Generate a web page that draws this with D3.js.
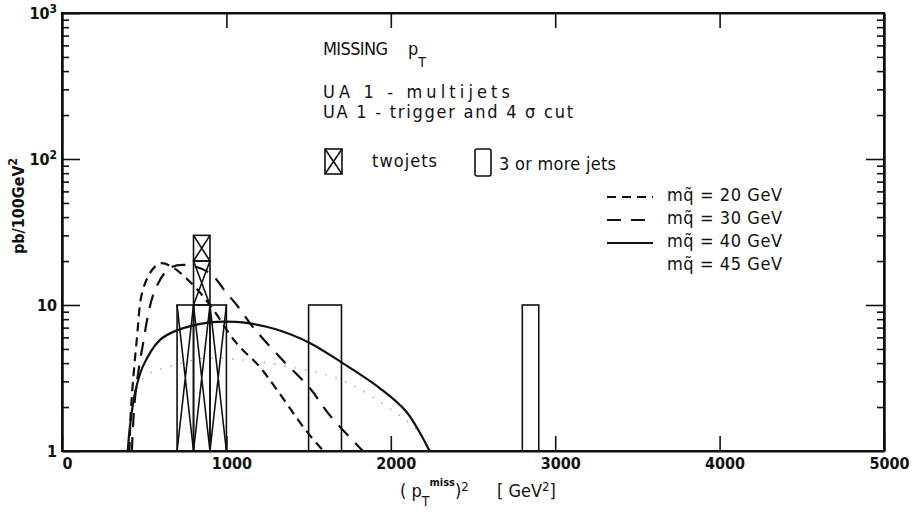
<!DOCTYPE html>
<html>
<head>
<meta charset="utf-8">
<script src="https://cdn.jsdelivr.net/npm/d3@7"></script>
<style>
  body { margin: 0; background: #fff; }
  svg text { font-family: "DejaVu Sans Condensed", "DejaVu Sans", sans-serif; fill: #111; }
  .tick text { font-weight: bold; font-size: 16px; }
</style>
</head>
<body>
<svg id="chart"></svg>
<script>
// histogram bins (GeV^2), one event = 10 pb/100GeV^2
const twoJetLo = [700, 800, 900];
const twoJetHi = [800, 900, 1000];
const twoJetEvents = [1, 3, 1];
const moreJetLo = [1500, 2800];
const moreJetHi = [1700, 2900];
const moreJetEvents = [1, 1];
const pbPerEvent = 10;

// theory curves: [ (pT miss)^2, pb/100GeV^2 ]
const mq20 = [[410,1],[418,1.8],[432,3],[455,5.8],[490,12.5],[550,17.5],[600,19.3],[670,18.2],[790,14],[900,10],[1060,5.5],[1200,3.8],[1310,2.6],[1480,1.4],[1590,1]];
const mq30 = [[425,1],[444,2.3],[486,4.9],[565,12.6],[656,17.9],[760,18.8],[900,16.5],[1000,12.1],[1063,10],[1160,7.1],[1324,4.4],[1507,2.7],[1628,1.76],[1830,1]];
const mq40 = [[400,1],[413,1.46],[444,2.5],[492,3.8],[595,5.75],[699,6.7],[899,7.6],[1000,7.7],[1100,7.6],[1306,6.8],[1507,5.5],[1707,4.0],[1932,2.7],[2096,1.85],[2236,1]];
const mq45 = [[405,1],[430,2],[500,3.2],[700,3.9],[850,4.3],[1000,4.3],[1370,3.8],[1700,3.06],[2010,1.9],[2175,1.33],[2240,1]];

const xTicks = [0, 1000, 2000, 3000, 4000, 5000];
const yMajor = [1, 10, 100, 1000];
const yMinor = [2,3,4,5,6,7,8,9,20,30,40,50,60,70,80,90,200,300,400,500,600,700,800,900];
const legendLabels = ['20', '30', '40', '45'];

const W = 914, H = 517;
const svg = d3.select('#chart').attr('width', W).attr('height', H);

const x = d3.scaleLinear().domain([0, 5000]).range([62, 884]);
const y = d3.scaleLog().domain([1, 1000]).range([451, 13]);

// frame
svg.append('rect')
  .attr('x', x(0)).attr('y', y(1000))
  .attr('width', x(5000) - x(0)).attr('height', y(1) - y(1000))
  .attr('fill', 'none').attr('stroke', '#111').attr('stroke-width', 2);

// bottom axis, ticks inward
const gx = svg.append('g').attr('transform', `translate(0,${y(1)})`)
  .call(d3.axisBottom(x).tickValues(xTicks).tickSizeInner(-15).tickSizeOuter(0).tickPadding(7).tickFormat(d3.format('d')));
gx.selectAll('.tick text').attr('dx', 5);
// top axis, no labels
svg.append('g').attr('transform', `translate(0,${y(1000)})`)
  .call(d3.axisTop(x).tickValues(xTicks.slice(1, -1)).tickSizeInner(-15).tickSizeOuter(0).tickFormat(''));

// left axis
const gyMaj = svg.append('g').attr('transform', `translate(${x(0)},0)`)
  .call(d3.axisLeft(y).tickValues(yMajor).tickSizeInner(-18).tickSizeOuter(0).tickPadding(5).tickFormat(''));
gyMaj.selectAll('.tick text').each(function(d) {
  const t = d3.select(this);
  const e = Math.round(Math.log10(d));
  if (e === 0) t.text('1');
  else if (e === 1) t.text('10');
  else {
    t.text('10');
    t.append('tspan').attr('dy', '-0.45em').attr('font-size', '12px').text(e);
  }
});
svg.append('g').attr('transform', `translate(${x(0)},0)`)
  .call(d3.axisLeft(y).tickValues(yMinor).tickSizeInner(-7).tickSizeOuter(0).tickFormat(''));
// right axis
svg.append('g').attr('transform', `translate(${x(5000)},0)`)
  .call(d3.axisRight(y).tickValues(yMajor.slice(1, -1)).tickSizeInner(-18).tickSizeOuter(0).tickFormat(''));
svg.append('g').attr('transform', `translate(${x(5000)},0)`)
  .call(d3.axisRight(y).tickValues(yMinor).tickSizeInner(-7).tickSizeOuter(0).tickFormat(''));

svg.selectAll('.domain').attr('stroke', '#111').attr('stroke-width', 2);
svg.selectAll('.tick line').attr('stroke', '#111').attr('stroke-width', 1.6);

// histograms: stacked event boxes
const hist = svg.append('g').attr('fill', 'none').attr('stroke', '#111').attr('stroke-width', 1.6);
function eventBoxes(lo, hi, events, crossed) {
  lo.forEach((l, i) => {
    for (let k = 0; k < events[i]; k++) {
      const b = Math.max(1, k * pbPerEvent), t = (k + 1) * pbPerEvent;
      const x0 = x(l), x1 = x(hi[i]), y0 = y(b), y1 = y(t);
      hist.append('rect').attr('x', x0).attr('y', y1).attr('width', x1 - x0).attr('height', y0 - y1);
      if (crossed) {
        hist.append('path').attr('d', `M${x0},${y0}L${x1},${y1}M${x0},${y1}L${x1},${y0}`);
      }
    }
  });
}
eventBoxes(twoJetLo, twoJetHi, twoJetEvents, true);
eventBoxes(moreJetLo, moreJetHi, moreJetEvents, false);

// curves
const line = d3.line().x(d => x(d[0])).y(d => y(d[1])).curve(d3.curveCatmullRom.alpha(0.5));
const curves = svg.append('g').attr('fill', 'none').attr('stroke', '#111');
curves.append('path').attr('d', line(mq20)).attr('stroke-width', 2.2).attr('stroke-dasharray', '9,6');
curves.append('path').attr('d', line(mq30)).attr('stroke-width', 2.2).attr('stroke-dasharray', '14,10');
curves.append('path').attr('d', line(mq40)).attr('stroke-width', 2.2);
curves.append('path').attr('d', line(mq45)).attr('stroke-width', 1.2).attr('stroke-dasharray', '1.5,9').attr('stroke-opacity', 0.45);

// annotations
const txt = svg.append('g').attr('font-size', '18px');
const t1 = txt.append('text').attr('x', 323).attr('y', 55);
t1.append('tspan').attr('textLength', 65).attr('lengthAdjust', 'spacing').text('MISSING');
t1.append('tspan').attr('x', 408).text('p');
t1.append('tspan').attr('dy', 12).attr('font-size', '14px').text('T');
txt.append('text').attr('x', 323).attr('y', 98).attr('textLength', 187).attr('lengthAdjust', 'spacing').text('UA 1 - multijets');
txt.append('text').attr('x', 323).attr('y', 118).attr('textLength', 250).attr('lengthAdjust', 'spacing').text('UA 1 - trigger and 4 σ cut');

// histogram legend
const lg = svg.append('g').attr('fill', 'none').attr('stroke', '#111').attr('stroke-width', 1.6);
lg.append('rect').attr('x', 325).attr('y', 149).attr('width', 17).attr('height', 25);
lg.append('path').attr('d', 'M325,149L342,174M325,174L342,149');
lg.append('rect').attr('x', 475).attr('y', 149).attr('width', 16).attr('height', 27).attr('rx', 2);
txt.append('text').attr('x', 372).attr('y', 167).attr('textLength', 65).attr('lengthAdjust', 'spacing').text('twojets');
txt.append('text').attr('x', 499).attr('y', 170).attr('textLength', 117).attr('lengthAdjust', 'spacing').text('3 or more jets');

// curve legend
const dashes = ['9,6', '14,10', null, '1.5,7'];
const rowY = [201, 224, 247, 270];
legendLabels.forEach((m, i) => {
  if (i < 3) {
    svg.append('line').attr('x1', 607).attr('x2', 653).attr('y1', rowY[i] - 4).attr('y2', rowY[i] - 4)
      .attr('stroke', '#111').attr('stroke-width', 2.2).attr('stroke-dasharray', dashes[i]);
  }
  txt.append('text').attr('x', 667).attr('y', rowY[i]).attr('textLength', 115).attr('lengthAdjust', 'spacing')
    .text(`mq\u0303 = ${m} GeV`);
});

// axis titles
svg.append('text').attr('transform', 'translate(24,206) rotate(-90)').attr('text-anchor', 'middle')
  .attr('font-size', '16px').attr('font-weight', 'bold')
  .html('pb/100GeV<tspan dy="-7" font-size="12px">2</tspan>');
const xt = svg.append('text').attr('x', 400).attr('y', 497).attr('font-size', '18px');
xt.append('tspan').text('( p');
xt.append('tspan').attr('dy', 9).attr('font-size', '14px').text('T');
xt.append('tspan').attr('dy', -20).attr('font-size', '11px').attr('font-weight', 'bold').text('miss');
xt.append('tspan').attr('dy', 11).text(')');
xt.append('tspan').attr('dy', -6).attr('font-size', '13px').text('2');
xt.append('tspan').attr('dy', 6).attr('x', 497).text('[ GeV');
xt.append('tspan').attr('dy', -6).attr('font-size', '13px').text('2');
xt.append('tspan').attr('dy', 6).text(']');
</script>
</body>
</html>
